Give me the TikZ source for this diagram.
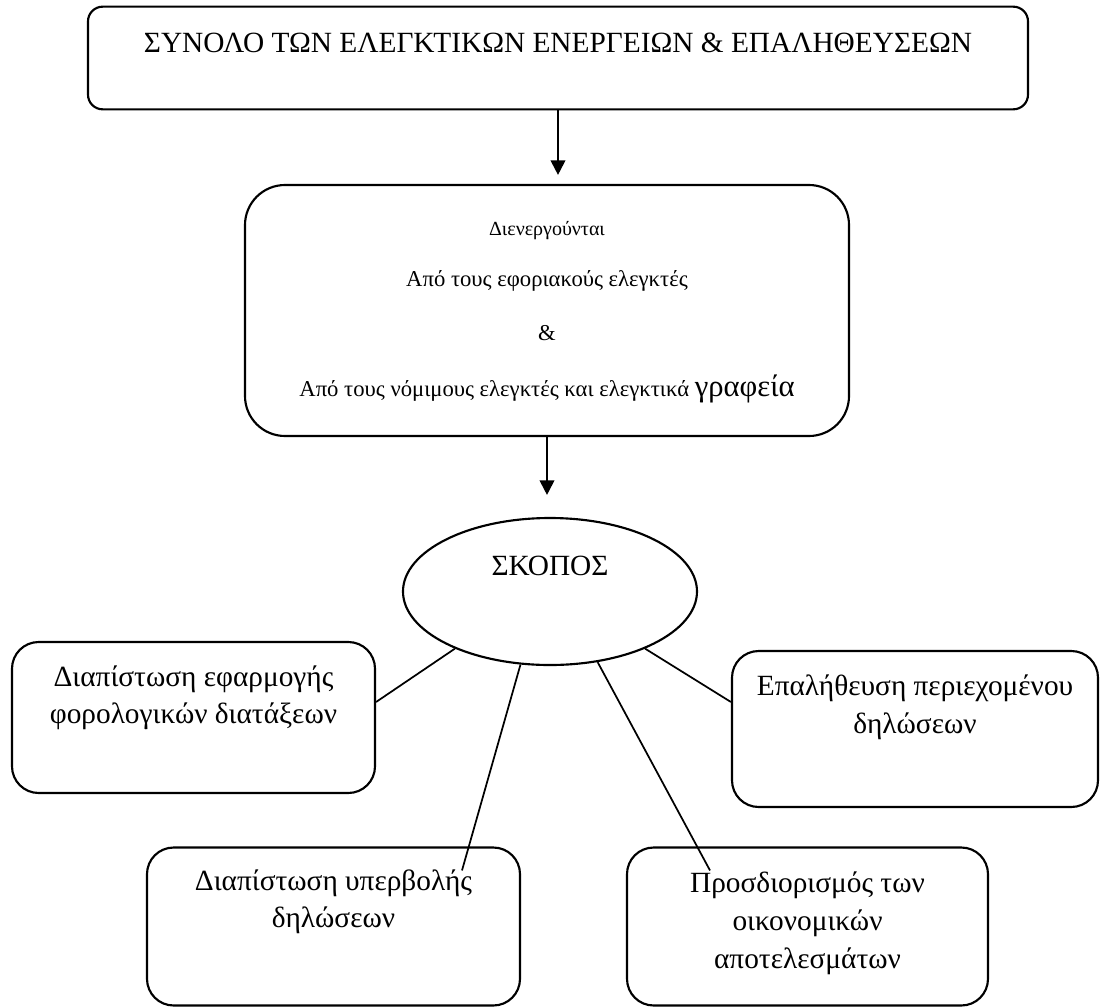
\documentclass[tikz,border=0pt]{standalone}
\usepackage{fontspec}
\setmainfont{Liberation Serif}
\usetikzlibrary{shapes.geometric,arrows.meta,calc}
\begin{document}
\begin{tikzpicture}[x=0.75pt,y=-0.75pt,
  frame/.style={draw,line width=1.6pt,rounded corners=#1,inner sep=0pt,rectangle},
  oval/.style={draw,line width=1.6pt,ellipse,inner sep=0pt},
  txt/.style={anchor=base,inner sep=0pt,align=center},
  big/.style={font=\fontsize{22}{26}\selectfont},
  mid/.style={font=\fontsize{22}{26}\selectfont},
  small/.style={font=\fontsize{17}{20}\selectfont},
  link/.style={line width=1.3pt},
  arr/.style={line width=1.5pt,-{Triangle[width=11pt,length=11pt]}}]
\useasboundingbox (0,0) rectangle (1100,1007);

% boxes
\node[frame=11pt,minimum width=705pt,minimum height=77pt] (b1) at (558,58) {};
\node[frame=30pt,minimum width=453pt,minimum height=188.25pt] (b2) at (547,310.5) {};
\node[oval,minimum width=220.5pt,minimum height=110.25pt] (sk) at (550,591.5) {};
\node[frame=20pt,minimum width=272.25pt,minimum height=113.25pt] (lb) at (193.5,717.5) {};
\node[frame=20pt,minimum width=274.5pt,minimum height=117pt] (rb) at (915,729) {};
\node[frame=20pt,minimum width=279.75pt,minimum height=118.5pt] (bl) at (333.5,926.5) {};
\node[frame=20pt,minimum width=270.75pt,minimum height=118.5pt] (br) at (807.5,926.5) {};

% texts
\node[txt,big] (t1) at (558,52) {ΣΥΝΟΛΟ ΤΩΝ ΕΛΕΓΚΤΙΚΩΝ ΕΝΕΡΓΕΙΩΝ \& ΕΠΑΛΗΘΕΥΣΕΩΝ};
\node[txt,font=\fontsize{15}{18}\selectfont] (t2a) at (547,235) {Διενεργούνται};
\node[txt,small] (t2b) at (547,286) {Από τους εφοριακούς ελεγκτές};
\node[txt,small] (t2c) at (547,340) {\&};
\node[txt,small] (t2d) at (547,396) {Από τους νόμιμους ελεγκτές και ελεγκτικά {\fontsize{23}{26}\selectfont γραφεία}};
\node[txt,big] (t3) at (550,575) {ΣΚΟΠΟΣ};
\node[txt,mid] (t4a) at (193.5,686) {Διαπίστωση εφαρμογής};
\node[txt,mid] (t4b) at (193.5,723) {φορολογικών διατάξεων};
\node[txt,mid] (t5a) at (915,695) {Επαλήθευση περιεχομένου};
\node[txt,mid] (t5b) at (915,733) {δηλώσεων};
\node[txt,mid] (t6a) at (333.5,890) {Διαπίστωση υπερβολής};
\node[txt,mid] (t6b) at (333.5,927) {δηλώσεων};
\node[txt,mid] (t7a) at (807.5,892) {Προσδιορισμός των};
\node[txt,mid] (t7b) at (807.5,930) {οικονομικών};
\node[txt,mid] (t7c) at (807.5,968) {αποτελεσμάτων};

% arrows
\draw[arr] (b1.south) -- ($(b1.south |- b2.north)+(0,-9)$);
\draw[arr] (b2.south) -- ($(b2.south |- sk.north)+(0,-22)$);

% connectors
\draw[link] (sk.211) -- ($(lb.east)+(0,-15.5)$);
\draw[link] (sk.248) -- ($(bl.north)+(128.5,24)$);
\draw[link] (sk.304.6) -- ($(br.north)+(-97.5,24)$);
\draw[link] (sk.329.2) -- ($(rb.west)+(0,-27)$);
\end{tikzpicture}
\end{document}
